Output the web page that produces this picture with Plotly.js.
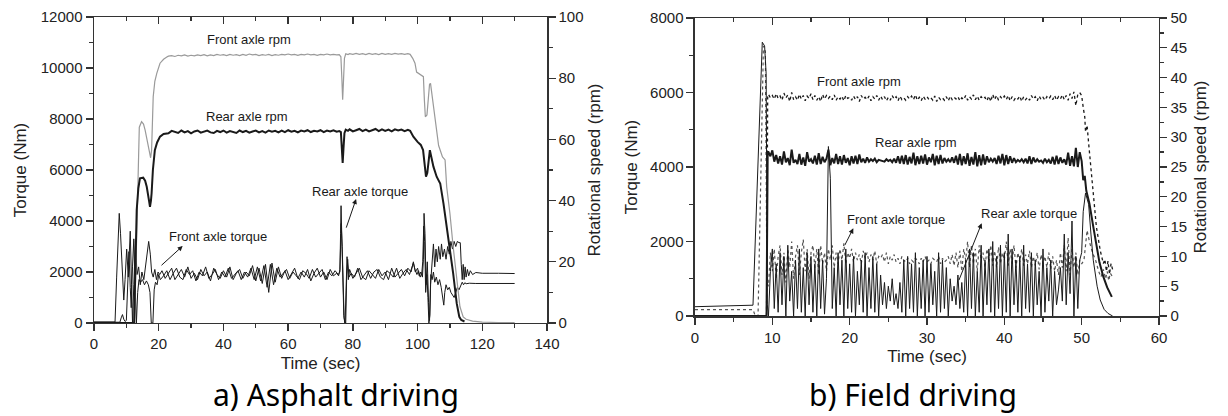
<!DOCTYPE html>
<html><head><meta charset="utf-8">
<script src="https://cdn.plot.ly/plotly-3.0.1.min.js"></script>
<style>html,body{margin:0;padding:0;background:#fff;}#chart{width:1228px;height:416px;}</style>
</head><body><div id="chart"></div>
<script>
// ===== a) Asphalt driving =====
// Front axle rpm (right axis, rpm)
const aFrontRpmT0 = [0,12.5,13.2,13.6,14,14.7,15.3,15.8,16.5,17.1,17.5,17.8,18,18.3,18.8,19.4,20.4,21.5,22.5];
const aFrontRpmV0 = [0,0,29,50,64,65.8,65,63,59,55,54,56.5,65,74,79,81.6,84.9,86.2,86.9];
const aRpmPlat1T = [23,24,25,26,27,28,29,30,31,32,33,34,35,36,37,38,39,40,41,42,43,44,45,46,47,48,49,50,51,52,53,54,55,56,57,58,59,60,61,62,63,64,65,66,67,68,69,70,71,72,73,74,75];
const aFrontRpmV1 = [87.2,87.4,87.1,87.5,87.3,87.6,87.2,87.5,87.3,87.6,
 87.4,87.7,87.3,87.6,87.4,87.8,87.5,87.7,87.4,87.8,
 87.5,87.7,87.4,87.8,87.5,87.9,87.6,87.8,87.4,87.7,
 87.5,87.8,87.4,87.7,87.5,87.8,87.6,87.9,87.6,87.8,
 87.5,87.8,87.6,87.9,87.6,87.8,87.5,87.8,87.6,87.9,
 87.6,87.8,87.6];
const aRpmDipT = [75.8,76.3,76.6,76.85,77.1,77.4,77.8,78.5];
const aFrontRpmV2 = [87.7,87.0,80,73,79,86.5,88.0,87.7];
const aRpmPlat2T = [79,80,81,82,83,84,85,86,87,88,89,90,91,92,93,94,95,96,97];
const aFrontRpmV3 = [88.0,87.8,88.1,87.8,88.0,87.7,88.1,87.8,88.0,87.7,88.1,87.8,88.0,87.8,88.1,87.9,88.0,87.8,88.0];
const aFrontRpmT4 = [97.7,98.5,99.2,99.7,100.5,101.3,101.8,102.1,102.4,102.9,103.3,103.7,104,104.4,104.9,105.7,106.5,107.7,108.5,109,110,111,112.1,113.1,114.1,115,117,120,125,130];
const aFrontRpmV4 = [87.8,86.5,84.9,82,81.5,81,80.5,73,67.4,68,73,78,78.3,75,70.7,64.2,58,54.3,53.3,44.5,35.8,24.9,14,5.3,2,1.2,0.6,0.3,0.15,0.1];

// Rear axle rpm (right axis, rpm)
const aRearRpmT0 = [0,12.4,13.2,13.7,14.2,15.2,15.8,16.3,17,17.3,17.6,17.8,18.2,18.8,19.5,20.4,21.5,22.5];
const aRearRpmV0 = [0,0,37,44,47.3,47.5,46.5,44.5,40,38,40,42.4,50,56.5,59,60.9,61.8,62];
const aRearRpmV1 = [62.0,62.8,62.5,62.1,62.9,62.3,62.7,62.0,62.6,62.9,
 62.2,62.6,62.9,62.3,62.1,62.8,62.4,62.9,62.2,62.7,
 62.5,62.1,62.9,62.4,62.8,62.2,62.6,62.9,62.3,62.7,
 62.2,62.9,62.5,62.8,62.3,62.9,62.4,63.0,62.5,62.8,
 62.3,62.9,62.6,63.0,62.4,62.8,62.6,63.0,62.4,62.9,
 62.6,63.0,62.5];
const aRearRpmV2 = [62.7,62.4,57,52.3,57,62,63.2,62.8];
const aRearRpmV3 = [63.3,62.6,63.0,63.4,62.7,63.2,62.6,63.1,63.4,62.7,63.3,62.8,63.2,62.6,63.3,62.9,63.2,62.7,63.1];
const aRearRpmT4 = [97.7,98.7,100,101,101.7,102.2,102.6,103,103.4,103.8,104.3,104.9,105.9,107,108,109,110,111,112.1,112.9,113.5,114.5];
const aRearRpmV4 = [62.8,60.9,59.2,58.2,56.5,51,47.8,49,54,56.5,54,51.1,47.8,45.6,39.1,31.5,24.9,16.2,6.4,2,1,0.5];

// Front axle torque (left axis, Nm)
const aFrontTqT0 = [0,6.5,7,7.5,7.8,8.2,8.6,9.2,9.6,10.1,10.6,11.2,11.6,11.9,12.3,12.8,13.3,13.8,14.3,14.8,15.4,16,16.6,16.9,17.4,17.8,18.3,18.8,19.3,19.8,20.3];
const aFrontTqV0 = [40,40,1800,3900,4300,3500,2300,900,1700,2900,1800,3600,1500,0,1500,3200,1900,2200,1500,2000,1700,2300,3000,3200,2700,2000,1800,2100,1700,2000,1900];
const aFrontTqT1 = [21,22,23,24,25,26,27,28,29,30,31,32,33,34,35,36,37,38,39,40,41,42,43,44,45,46,47,48,49,50,51,52,53,54,55,56,57,58,59,60,61,62,63,64,65,66,67,68,69,70,71,72,73,74,75];
const aFrontTqV1 = [2050,1750,1950,2150,1700,1900,2100,1800,2200,1750,
 1950,1700,2100,1850,2000,1650,2150,1900,1750,2050,
 1800,2200,1700,1950,2100,1750,2000,1850,2250,1650,
 2150,1550,2300,1200,2350,1600,2200,1750,2050,1700,
 1900,2150,1750,2000,1800,2100,1650,1950,2150,1800,
 2000,1700,2100,1850,1950];
const aFrontTqT2 = [75.6,76,76.4,76.7,77,77.3,77.6,77.9,78.2,78.6];
const aFrontTqV2 = [1850,2100,3900,3000,1200,200,0,1500,2600,1700];
const aFrontTqT3 = [79,80,81,82,83,84,85,86,87,88,89,90,91,92,93,94,95,96,97,98];
const aFrontTqV3 = [2100,1750,1950,2150,1800,1700,2050,1900,1750,2100,1850,2000,1700,2150,1800,1950,2100,1850,2150,2000];
const aFrontTqT4 = [98.7,99.3,100,100.5,101,101.5,101.8,102,102.3,102.6,103,103.4,103.7,104,
 104.4,104.9,105.3,105.7,106.1,106.5,107,107.4,107.8,108.3,
 108.8,109.3,109.8,110.3,110.8,111.3,111.8,112.3,112.8,113.2,
 113.5,113.8,114.1,114.4,114.7,115,115.4,115.8,116.3,117,118,120,125,130];
const aFrontTqV4 = [2400,2000,2150,1850,2000,1800,2500,4300,3500,1500,2400,800,100,1500,
 2300,3100,2200,2900,2400,3000,2500,3100,2600,2900,
 2500,3000,2700,3200,2900,3200,3000,3200,3150,3150,
 2300,1700,2300,1700,2200,1800,2100,1850,2050,1900,1980,1950,1950,1940];

// Rear axle torque (left axis, Nm)
const aRearTqT0 = [0,8,8.4,8.8,9.2,9.6,10,10.4,10.8,11.2,11.5,11.9,12.3,12.7,13.1,13.5,13.9,14.4,15,15.6,16.2,16.8,17.3,17.7,18.2,18.6,19,19.5,20,20.5];
const aRearTqV0 = [30,30,200,330,150,60,100,1500,2800,1400,600,2200,3300,1500,0,1200,1700,1600,1700,1500,1650,1500,1200,0,0,1300,1600,1500,1900,1700];
const aRearTqT1 = [21.5,22.5,23.5,24.5,25.5,26.5,27.5,28.5,29.5,30.5,31.5,32.5,33.5,34.5,35.5,36.5,37.5,38.5,39.5,40.5,41.5,42.5,43.5,44.5,45.5,46.5,47.5,48.5,49.5,50.5,51.5,52.5,53.5,54.5,55.5,56.5,57.5,58.5,59.5,60.5,61.5,62.5,63.5,64.5,65.5,66.5,67.5,68.5,69.5,70.5,71.5,72.5,73.5,74.5,75.5];
const aRearTqV1 = [1850,2050,1700,1950,2150,1800,1700,2100,1900,2050,
 1650,2000,1850,2200,1750,1900,2100,1700,2000,1800,
 2150,1750,1900,2050,1700,2000,1800,2150,1700,2200,
 1650,2250,1400,2300,1500,2150,1800,1950,2100,1750,
 2000,1850,1700,2050,1950,1750,2100,1800,1950,2100,
 1700,2000,1850,2050,1900];
const aRearTqT2 = [76,76.2,76.35,76.6,76.9,77.2,77.5,77.8,78.1,78.4,78.8];
const aRearTqV2 = [2000,3500,4600,3300,1500,300,0,0,1900,2500,1800];
const aRearTqT3 = [79.5,80.5,81.5,82.5,83.5,84.5,85.5,86.5,87.5,88.5,89.5,90.5,91.5,92.5,93.5,94.5,95.5,96.5,97.5];
const aRearTqV3 = [1950,1800,2150,1700,1900,2050,1750,2000,2100,1800,1700,2050,1950,1800,2150,1750,1950,2100,1900];
const aRearTqT4 = [98.2,98.7,99.2,99.8,100.3,100.8,101.3,101.6,101.9,102.2,
 102.5,102.9,103.2,103.5,103.8,104.1,104.5,104.9,105.3,105.8,
 106.3,106.8,107.3,107.7,108.1,108.4,108.8,109.3,109.8,110.3,
 110.8,111.3,111.8,112.3,112.8,113.2,113.5,113.8,114.2,114.6,
 115,116,118,120,125,130];
const aRearTqV4 = [2200,2350,2100,1900,2050,1800,1950,2400,3800,3200,
 1200,1900,1000,0,300,1900,1700,2000,1600,1800,
 1500,1700,1400,1100,700,1200,1500,1300,1400,1200,
 1100,1000,1200,1400,1300,1450,1500,1600,1500,1580,
 1540,1560,1550,1550,1550,1550];

// ===== b) Field driving =====
const tB = [9.5,9.75,
 10,10.25,10.5,10.75, 11,11.25,11.5,11.75, 12,12.25,12.5,12.75, 13,13.25,13.5,13.75, 14,14.25,14.5,14.75,
 15,15.25,15.5,15.75, 16,16.25,16.5,16.75, 17,17.25,17.5,17.75, 18,18.25,18.5,18.75, 19,19.25,19.5,19.75,
 20,20.25,20.5,20.75, 21,21.25,21.5,21.75, 22,22.25,22.5,22.75, 23,23.25,23.5,23.75, 24,24.25,24.5,24.75,
 25,25.25,25.5,25.75, 26,26.25,26.5,26.75, 27,27.25,27.5,27.75, 28,28.25,28.5,28.75, 29,29.25,29.5,29.75,
 30,30.25,30.5,30.75, 31,31.25,31.5,31.75, 32,32.25,32.5,32.75, 33,33.25,33.5,33.75, 34,34.25,34.5,34.75,
 35,35.25,35.5,35.75, 36,36.25,36.5,36.75, 37,37.25,37.5,37.75, 38,38.25,38.5,38.75, 39,39.25,39.5,39.75,
 40,40.25,40.5,40.75, 41,41.25,41.5,41.75, 42,42.25,42.5,42.75, 43,43.25,43.5,43.75, 44,44.25,44.5,44.75,
 45,45.25,45.5,45.75, 46,46.25,46.5,46.75, 47,47.25,47.5,47.75, 48,48.25,48.5,48.75, 49,49.25,49.5,49.75,
 50];

// Front axle rpm (right axis, rpm) - dotted
const bFrontRpmT0 = [0,9.25,9.4];
const bFrontRpmV0 = [0,0,36.8];
const bFrontRpmV1 = [37.2,36.6,
 37.0,36.4,37.3,36.5, 36.9,36.2,37.4,36.6, 37.1,36.0,37.5,36.3, 36.8,36.2,37.2,36.4, 37.0,36.1,36.9,36.5,
 37.3,36.3,37.0,36.2, 36.8,36.0,37.2,36.4, 37.0,36.5,36.9,36.3, 37.1,36.2,36.8,36.4, 36.9,36.1,37.0,36.5,
 36.7,36.2,36.9,36.3, 36.8,36.0,37.0,36.4, 36.7,36.3,36.9,36.1, 36.8,36.4,37.0,36.2, 36.9,36.3,36.8,36.1,
 36.7,36.2,37.0,36.4, 36.8,36.1,36.9,36.3, 36.6,36.2,36.8,36.4, 36.9,36.3,37.1,36.2, 36.7,36.1,36.9,36.4,
 36.8,36.3,36.6,36.2, 36.9,36.0,36.7,36.3, 36.6,36.2,36.8,36.1, 36.9,36.3,36.7,36.4, 36.8,36.1,36.6,36.3,
 37.0,36.2,36.8,36.4, 37.1,36.3,36.9,36.2, 36.8,36.4,36.7,36.1, 36.9,36.0,37.2,36.3, 37.0,36.2,36.8,36.4,
 36.9,36.3,37.0,36.1, 36.8,36.2,36.7,36.4, 36.9,36.0,36.8,36.3, 36.7,36.2,37.0,36.4, 36.8,36.1,36.9,36.3,
 36.7,36.2,36.8,36.4, 36.9,36.3,37.0,36.2, 36.8,36.4,37.1,36.3, 37.0,36.2,37.3,36.5, 37.6,35.3,37.2,37.5,
 37.0];
const bFrontRpmT2 = [50.2,50.4,50.5,50.7,50.9,51.1,51.5,51.9,52.4,52.8,53,53.2,53.4,53.6,53.8,54];
const bFrontRpmV2 = [35,33.4,30.9,32,29,26.2,19.5,15,11,8.8,9.5,7.5,9.2,7,8.8,7.8];

// Rear axle rpm (right axis, rpm) - solid thick
const bRearRpmT0 = [0,9.25,9.4];
const bRearRpmV0 = [0,0,27.5];
const bRearRpmV1 = [27.5,26.8,
 27.8,25.9,27.0,25.6, 26.8,25.4,27.6,25.8, 26.5,25.3,27.9,25.7, 26.2,25.5,27.2,25.4, 26.6,25.2,27.5,25.9,
 26.3,25.6,26.9,25.4, 27.3,25.5,26.7,25.8, 26.4,27.9,25.3,26.5, 25.6,27.2,25.5,26.8, 25.4,27.0,25.7,26.5,
 25.3,26.8,25.6,26.9, 25.5,27.1,25.8,26.4, 25.7,26.6,25.9,26.3, 26.0,26.4,25.8,26.2, 26.1,26.0,25.9,26.3,
 26.0,26.2,25.8,26.4, 25.7,26.8,25.6,26.9, 25.5,27.0,25.4,26.7, 25.6,27.4,25.3,26.8, 25.5,26.9,25.6,27.1,
 25.4,26.6,25.8,27.2, 25.3,26.9,25.5,27.0, 25.6,26.5,25.9,26.3, 25.8,26.6,25.7,26.9, 25.4,27.2,25.3,26.8,
 25.5,27.3,25.2,26.7, 25.4,27.5,25.1,27.0, 25.3,27.1,25.4,26.8, 25.8,26.4,25.9,26.5, 25.5,26.9,25.6,27.2,
 25.3,27.0,25.5,26.8, 25.7,26.5,25.8,26.2, 25.9,26.3,25.8,26.4, 25.6,26.8,25.5,26.6, 25.8,26.3,25.9,26.1,
 25.7,26.4,25.8,26.2, 25.6,26.7,25.4,26.9, 25.5,26.6,25.7,26.3, 25.4,27.4,25.2,26.8, 25.1,28.2,25.0,27.5,
 26.0];
const bRearRpmT2 = [50.2,50.4,50.6,51,51.5,51.9,52.3,52.8,53.3,53.9];
const bRearRpmV2 = [22.8,23.5,21,18.9,15,11.6,9,6.6,4.8,3.2];

// Front axle torque (left axis, Nm) - dotted
const bFrontTqT0 = [0,7.5,7.8,8.15,8.85,9.1,9.3];
const bFrontTqV0 = [170,170,0,0,7250,7100,900];
const bFrontTqV1 = [800,1700,
 1200,1800,1000,1600, 1900,1100,1700,900, 1800,1300,2000,1000, 1600,1900,1100,1700, 2050,1200,1800,1000,
 1700,1900,1300,1800, 1100,1900,1400,1700, 1200,1800,1500,1900, 1300,1700,1400,1800, 1500,1950,1400,1700,
 1550,1800,1450,1700, 1500,1650,1400,1750, 1550,1700,1450,1650, 1500,1750,1400,1600, 1550,1650,1450,1700,
 1400,1600,1500,1650, 1450,1550,1400,1600, 1500,1450,1550,1400, 1500,1450,1550,1500, 1400,1550,1450,1600,
 1450,1500,1400,1550, 1500,1450,1600,1400, 1550,1450,1500,1600, 1400,1650,1350,1700, 1300,1750,1200,1800,
 1500,2000,1300,1900, 1400,1800,1200,1900, 1500,1700,1300,1800, 1450,1900,1350,1750, 1300,1850,1400,1700,
 1500,2000,1350,1800, 1400,1900,1300,1700, 1450,1800,1350,1650, 1400,1750,1300,1600, 1350,1700,1250,1650,
 1400,1600,1300,1700, 1250,1600,1200,1500, 1100,1700,1300,1900, 1200,2100,1100,1800, 1300,1700,1100,1500,
 1400];
const bFrontTqT2 = [50.3,50.7,51,51.4,51.8,52.2,52.5,52.8,53.1,53.3,53.5,53.7,54];
const bFrontTqV2 = [1500,2300,2000,1700,1500,1200,1050,1250,1000,1200,950,1150,1050];

// Rear axle torque (left axis, Nm) - solid
const bRearTqT0 = [0,7.5,8.7,9,9.2,9.35];
const bRearTqV0 = [250,290,7350,7250,6500,300];
const bRearTqV1 = [0,1200,
 1800,200,1400,100, 1700,300,1600,0, 1900,400,1200,0, 1500,200,1800,100, 1300,0,1700,300,
 1600,100,1400,0, 1800,200,1500,50, 1000,4550,3700,200, 1300,0,1700,300, 1500,0,1800,200,
 1400,100,1600,0, 1200,300,1500,100, 1700,0,1300,200, 1600,100,1400,0, 1100,300,900,200,
 800,400,1000,300, 600,200,900,100, 1500,0,1600,200, 1400,100,1700,0, 1300,200,1500,0,
 1600,100,1400,300, 1200,0,1700,100, 1500,200,1300,0, 1000,400,800,300, 1100,200,900,100,
 1500,0,1800,200, 1700,0,1200,100, 1900,0,1500,300, 1800,100,2000,0, 1600,200,1900,0,
 1700,100,2200,0, 1800,300,1500,100, 1600,0,1900,200, 1400,100,1700,0, 1500,300,1200,0,
 1800,100,1300,400, 1500,0,1200,300, 700,1300,400,2200, 300,1700,600,2550, 0,1600,200,1500,
 1700];
const bRearTqT2 = [50.2,50.5,50.9,51.2,51.5,52,52.4,52.9,53.4,54];
const bRearTqV2 = [2800,3300,3000,2200,1500,800,430,180,70,0];

// ----- assemble -----
function chk(name, t, v){ if (t.length !== v.length) throw new Error(name+' length mismatch '+t.length+' vs '+v.length); }
const S = {
 aFR: [aFrontRpmT0.concat(aRpmPlat1T, aRpmDipT, aRpmPlat2T, aFrontRpmT4), aFrontRpmV0.concat(aFrontRpmV1, aFrontRpmV2, aFrontRpmV3, aFrontRpmV4)],
 aRR: [aRearRpmT0.concat(aRpmPlat1T, aRpmDipT, aRpmPlat2T, aRearRpmT4), aRearRpmV0.concat(aRearRpmV1, aRearRpmV2, aRearRpmV3, aRearRpmV4)],
 aFT: [aFrontTqT0.concat(aFrontTqT1, aFrontTqT2, aFrontTqT3, aFrontTqT4), aFrontTqV0.concat(aFrontTqV1, aFrontTqV2, aFrontTqV3, aFrontTqV4)],
 aRT: [aRearTqT0.concat(aRearTqT1, aRearTqT2, aRearTqT3, aRearTqT4), aRearTqV0.concat(aRearTqV1, aRearTqV2, aRearTqV3, aRearTqV4)],
 bFR: [bFrontRpmT0.concat(tB, bFrontRpmT2), bFrontRpmV0.concat(bFrontRpmV1, bFrontRpmV2)],
 bRR: [bRearRpmT0.concat(tB, bRearRpmT2), bRearRpmV0.concat(bRearRpmV1, bRearRpmV2)],
 bFT: [bFrontTqT0.concat(tB, bFrontTqT2), bFrontTqV0.concat(bFrontTqV1, bFrontTqV2)],
 bRT: [bRearTqT0.concat(tB, bRearTqT2), bRearTqV0.concat(bRearTqV1, bRearTqV2)]
};
for (const k in S) chk(k, S[k][0], S[k][1]);

const INK = '#1a1a1a';
const traces = [
 {x:S.aFR[0], y:S.aFR[1], xaxis:'x', yaxis:'y2', mode:'lines', line:{color:'#9a9a9a', width:1.2}},
 {x:S.aRR[0], y:S.aRR[1], xaxis:'x', yaxis:'y2', mode:'lines', line:{color:INK, width:2}},
 {x:S.aRT[0], y:S.aRT[1], xaxis:'x', yaxis:'y', mode:'lines', line:{color:INK, width:1}},
 {x:S.aFT[0], y:S.aFT[1], xaxis:'x', yaxis:'y', mode:'lines', line:{color:INK, width:1}},
 {x:S.bFT[0], y:S.bFT[1], xaxis:'x2', yaxis:'y3', mode:'lines', line:{color:'#555', width:1.2, dash:'dot'}},
 {x:S.bRT[0], y:S.bRT[1], xaxis:'x2', yaxis:'y3', mode:'lines', line:{color:INK, width:1}},
 {x:S.bFR[0], y:S.bFR[1], xaxis:'x2', yaxis:'y4', mode:'lines', line:{color:INK, width:1.3, dash:'dot'}},
 {x:S.bRR[0], y:S.bRR[1], xaxis:'x2', yaxis:'y4', mode:'lines', line:{color:INK, width:2}},
 {x:[], y:[], xaxis:'x3', yaxis:'y', mode:'lines'},
 {x:[], y:[], xaxis:'x4', yaxis:'y3', mode:'lines'}
];

const AX = '#333';
const FONT = 'Liberation Sans, Arial, sans-serif';
function ax(o){
 return Object.assign({showgrid:false, zeroline:false, showline:true, linecolor:AX, linewidth:1.5,
   ticks:'outside', ticklen:7, tickwidth:1.3, tickcolor:AX, tickformat:'d',
   tickfont:{family:FONT, size:15, color:'#222'}, fixedrange:true}, o);
}
const titleFont = {family:FONT, size:17, color:'#222'};
const capFont = {family:'Noto Sans, sans-serif', size:30, color:'#000'};

const layout = {
 width:1228, height:416, margin:{l:0, r:0, t:0, b:0},
 paper_bgcolor:'#fff', plot_bgcolor:'#fff', showlegend:false, hovermode:false,
 font:{family:FONT, size:15, color:'#222'},
 xaxis: ax({domain:[0.07655,0.44544], anchor:'y', range:[0,140], dtick:20, minor:{dtick:10, ticks:'outside', ticklen:4, tickcolor:AX},
   title:{text:'Time (sec)', font:titleFont, standoff:5}}),
 xaxis3: ax({overlaying:'x', anchor:'y', side:'top', range:[0,140], dtick:20, ticks:'inside', showticklabels:false,
   minor:{dtick:10, ticks:'inside', ticklen:4, tickcolor:AX}}),
 yaxis: ax({domain:[0.22356,0.95913], anchor:'x', range:[0,12000], dtick:2000, minor:{dtick:1000, ticks:'outside', ticklen:4, tickcolor:AX},
   title:{text:'Torque (Nm)', font:titleFont, standoff:10}}),
 yaxis2: ax({overlaying:'y', anchor:'x', side:'right', range:[0,100], dtick:20, minor:{dtick:10, ticks:'outside', ticklen:4, tickcolor:AX},
   title:{text:'Rotational speed (rpm)', font:titleFont, standoff:5}}),
 xaxis2: ax({domain:[0.56596,0.94381], anchor:'y3', range:[0,60], dtick:10, minor:{dtick:5, ticks:'outside', ticklen:4, tickcolor:AX},
   title:{text:'Time (sec)', font:titleFont, standoff:5}}),
 xaxis4: ax({overlaying:'x2', anchor:'y3', side:'top', range:[0,60], dtick:10, ticks:'inside', showticklabels:false,
   minor:{dtick:5, ticks:'inside', ticklen:4, tickcolor:AX}}),
 yaxis3: ax({domain:[0.24038,0.95673], anchor:'x2', range:[0,8000], dtick:2000, minor:{dtick:1000, ticks:'outside', ticklen:4, tickcolor:AX},
   title:{text:'Torque (Nm)', font:titleFont, standoff:8}}),
 yaxis4: ax({overlaying:'y3', anchor:'x2', side:'right', range:[0,50], dtick:5, minor:{dtick:2.5, ticks:'outside', ticklen:4, tickcolor:AX},
   title:{text:'Rotational speed (rpm)', font:titleFont, standoff:8}}),
 annotations: [
  {xref:'x', yref:'y', x:48.05, y:11100, text:'Front axle rpm', showarrow:false, font:{family:FONT, size:13, color:INK}},
  {xref:'x', yref:'y', x:47.4, y:8080, text:'Rear axle rpm', showarrow:false, font:{family:FONT, size:13, color:INK}},
  {xref:'x', yref:'y', x:82.2, y:5150, text:'Rear axle torque', showarrow:false, font:{family:FONT, size:13, color:INK}},
  {xref:'x', yref:'y', x:38.3, y:3410, text:'Front axle torque', showarrow:false, font:{family:FONT, size:13, color:INK}},
  {xref:'x', yref:'y', axref:'x', ayref:'y', x:27.4, y:3020, ax:20.4, ay:2210, text:'', showarrow:true, arrowhead:2, arrowsize:1, arrowwidth:1, arrowcolor:INK},
  {xref:'x', yref:'y', axref:'x', ayref:'y', x:81.0, y:4860, ax:77.8, ay:3680, text:'', showarrow:true, arrowhead:2, arrowsize:1, arrowwidth:1, arrowcolor:INK},
  {xref:'x2', yref:'y3', x:21.2, y:6300, text:'Front axle rpm', showarrow:false, font:{family:FONT, size:13, color:INK}},
  {xref:'x2', yref:'y3', x:28.55, y:4650, text:'Rear axle rpm', showarrow:false, font:{family:FONT, size:13, color:INK}},
  {xref:'x2', yref:'y3', x:25.97, y:2580, text:'Front axle torque', showarrow:false, font:{family:FONT, size:13, color:INK}},
  {xref:'x2', yref:'y3', x:43.2, y:2740, text:'Rear axle torque', showarrow:false, font:{family:FONT, size:13, color:INK}},
  {xref:'x2', yref:'y3', axref:'x2', ayref:'y3', x:20.47, y:2354, ax:19.27, ay:1860, text:'', showarrow:true, arrowhead:2, arrowsize:1, arrowwidth:1, arrowcolor:INK},
  {xref:'x2', yref:'y3', axref:'x2', ayref:'y3', x:37.07, y:2488, ax:34.05, ay:921, text:'', showarrow:true, arrowhead:2, arrowsize:1, arrowwidth:1, arrowcolor:INK},
  {xref:'paper', yref:'paper', x:0.274, y:0, xanchor:'center', yanchor:'bottom', text:'a) Asphalt driving', showarrow:false, borderpad:0, font:capFont},
  {xref:'paper', yref:'paper', x:0.7435, y:0, xanchor:'center', yanchor:'bottom', text:'b) Field driving', showarrow:false, borderpad:0, font:capFont}
 ]
};
Plotly.newPlot('chart', traces, layout, {staticPlot:true, displayModeBar:false});
</script>
</body></html>
